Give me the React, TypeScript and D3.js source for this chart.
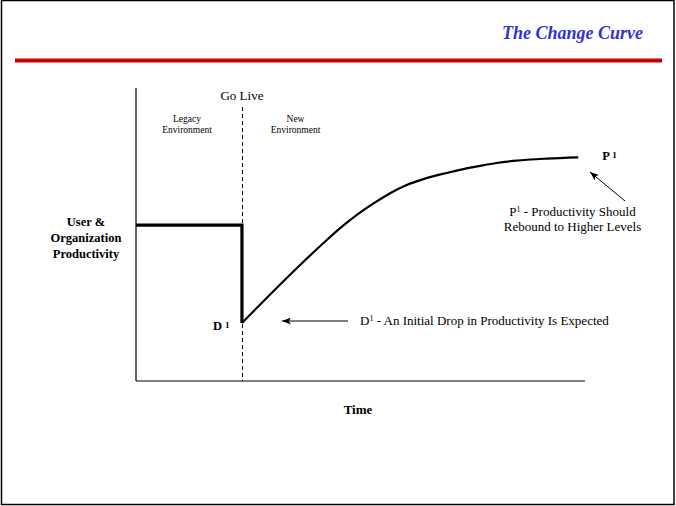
import { useEffect, useRef } from "react";
import * as d3 from "d3";

// Productivity levels (arbitrary units) over time (0-100)
const goLiveTime = 23.6;

const legacyTime = [0, 23.6, 23.6];
const legacyLevel = [53.2, 53.2, 19.8];

const newTime = [23.6, 35.8, 41.7, 45.4, 49.2, 52.9, 56.6, 60.3, 64.0, 69.2, 72.9, 76.6, 80.3, 84.0, 87.8, 91.5, 98.5];
const newLevel = [19.8, 38.5, 47.0, 52.1, 56.7, 60.6, 64.1, 66.9, 68.9, 71.0, 72.3, 73.4, 74.4, 75.1, 75.6, 75.9, 76.3];

const title = "The Change Curve";
const yLabelLines = ["User &", "Organization", "Productivity"];
const xLabel = "Time";

const serif = "'Liberation Serif', 'Times New Roman', serif";

const ChangeCurve = () => {
  const svgRef = useRef<SVGSVGElement>(null);

  useEffect(() => {
    if (!svgRef.current) return;
    const width = 676;
    const height = 506;

    const svg = d3.select(svgRef.current);
    svg.selectAll("*").remove();
    svg.attr("width", width).attr("height", height).style("font-family", serif);

    const x = d3.scaleLinear().domain([0, 100]).range([136, 585]);
    const y = d3.scaleLinear().domain([0, 100]).range([381, 88]);

    // page frame
    svg
      .append("rect")
      .attr("x", 1.5)
      .attr("y", 0.5)
      .attr("width", 672.5)
      .attr("height", 504)
      .attr("fill", "white")
      .attr("stroke", "black")
      .attr("stroke-width", 1.5);

    // title + red rule
    svg
      .append("text")
      .attr("x", 643)
      .attr("y", 39)
      .attr("text-anchor", "end")
      .style("font-size", "18px")
      .style("font-weight", "bold")
      .style("font-style", "italic")
      .style("fill", "#3333cc")
      .text(title);

    svg
      .append("line")
      .attr("x1", 15)
      .attr("x2", 662)
      .attr("y1", 60.5)
      .attr("y2", 60.5)
      .attr("stroke", "#cc0000")
      .attr("stroke-width", 4);

    // arrow marker (tip points along the line direction)
    const defs = svg.append("defs");
    defs
      .append("marker")
      .attr("id", "arrowHead")
      .attr("viewBox", "0 0 10 10")
      .attr("refX", 10)
      .attr("refY", 5)
      .attr("markerWidth", 9)
      .attr("markerHeight", 7)
      .attr("markerUnits", "userSpaceOnUse")
      .attr("orient", "auto")
      .attr("preserveAspectRatio", "none")
      .append("path")
      .attr("d", "M10,5 L0,0 L2.5,5 L0,10 Z")
      .attr("fill", "black");

    // axes (plain lines, no ticks)
    svg
      .append("line")
      .attr("x1", x(0))
      .attr("x2", x(0))
      .attr("y1", y(100))
      .attr("y2", y(0))
      .attr("stroke", "black")
      .attr("stroke-width", 1.2);
    svg
      .append("line")
      .attr("x1", x(0))
      .attr("x2", x(100))
      .attr("y1", y(0))
      .attr("y2", y(0))
      .attr("stroke", "black")
      .attr("stroke-width", 1.2);

    // go live dashed line
    svg
      .append("line")
      .attr("x1", x(goLiveTime) + 0.5)
      .attr("x2", x(goLiveTime) + 0.5)
      .attr("y1", y(93.5))
      .attr("y2", y(0))
      .attr("stroke", "black")
      .attr("stroke-width", 1)
      .attr("stroke-dasharray", "4,3");

    svg
      .append("text")
      .attr("x", x(goLiveTime))
      .attr("y", 100)
      .attr("text-anchor", "middle")
      .style("font-size", "13px")
      .text("Go Live");

    const envLabel = (cx: number, lines: string[]) => {
      const t = svg
        .append("text")
        .attr("text-anchor", "middle")
        .style("font-size", "9.5px");
      lines.forEach((l, i) => {
        t.append("tspan")
          .attr("x", cx)
          .attr("y", 122 + i * 11)
          .text(l);
      });
    };
    envLabel(187, ["Legacy", "Environment"]);
    envLabel(295.5, ["New", "Environment"]);

    // curves
    const line = d3
      .line<[number, number]>()
      .x((d) => x(d[0]))
      .y((d) => y(d[1]));

    const legacy = legacyTime.map((t, i) => [t, legacyLevel[i]] as [number, number]);
    svg
      .append("path")
      .attr("d", line.curve(d3.curveLinear)(legacy))
      .attr("fill", "none")
      .attr("stroke", "black")
      .attr("stroke-width", 3.2)
      .attr("stroke-linejoin", "miter");

    const recovery = newTime.map((t, i) => [t, newLevel[i]] as [number, number]);
    svg
      .append("path")
      .attr("d", line.curve(d3.curveMonotoneX)(recovery))
      .attr("fill", "none")
      .attr("stroke", "black")
      .attr("stroke-width", 2.2);

    // D1 label
    const dPt = recovery[0];
    const dLabel = svg
      .append("text")
      .attr("x", x(dPt[0]) - 29)
      .attr("y", y(dPt[1]) + 7)
      .style("font-size", "12.5px")
      .style("font-weight", "bold");
    dLabel.append("tspan").text("D ");
    dLabel.append("tspan").attr("dy", -2).style("font-size", "9px").text("1");

    // P1 label
    const pPt = recovery[recovery.length - 1];
    const pLabel = svg
      .append("text")
      .attr("x", x(pPt[0]) + 24)
      .attr("y", y(pPt[1]) + 3)
      .style("font-size", "12.5px")
      .style("font-weight", "bold");
    pLabel.append("tspan").text("P ");
    pLabel.append("tspan").attr("dy", -2).style("font-size", "9px").text("1");

    // D1 annotation
    svg
      .append("line")
      .attr("x1", 348)
      .attr("x2", 282)
      .attr("y1", 321)
      .attr("y2", 321)
      .attr("stroke", "black")
      .attr("stroke-width", 1)
      .attr("marker-end", "url(#arrowHead)");

    const dText = svg
      .append("text")
      .attr("x", 360)
      .attr("y", 325)
      .style("font-size", "13px");
    dText.append("tspan").text("D");
    dText.append("tspan").attr("dy", -4).style("font-size", "8px").text("1");
    dText.append("tspan").attr("dy", 4).text(" - An Initial Drop in Productivity Is Expected");

    // P1 annotation
    svg
      .append("line")
      .attr("x1", 625)
      .attr("y1", 201)
      .attr("x2", 590)
      .attr("y2", 172)
      .attr("stroke", "black")
      .attr("stroke-width", 1)
      .attr("marker-end", "url(#arrowHead)");

    const pText = svg
      .append("text")
      .attr("text-anchor", "middle")
      .style("font-size", "13px");
    pText.append("tspan").attr("x", 572.5).attr("y", 216).text("P");
    pText.append("tspan").attr("dy", -4).style("font-size", "8px").text("1");
    pText.append("tspan").attr("dy", 4).text(" - Productivity Should");
    pText.append("tspan").attr("x", 572.5).attr("y", 231).text("Rebound to Higher Levels");

    // axis titles
    const yl = svg
      .append("text")
      .attr("text-anchor", "middle")
      .style("font-size", "12.5px")
      .style("font-weight", "bold");
    yLabelLines.forEach((l, i) => {
      yl.append("tspan")
        .attr("x", 86)
        .attr("y", 226 + i * 16)
        .text(l);
    });

    svg
      .append("text")
      .attr("x", 358)
      .attr("y", 414)
      .attr("text-anchor", "middle")
      .style("font-size", "13px")
      .style("font-weight", "bold")
      .text(xLabel);
  }, []);

  return <svg ref={svgRef} style={{ position: "absolute", left: 0, top: 0 }} />;
};

export default function App() {
  return (
    <div>
      <ChangeCurve />
    </div>
  );
}
